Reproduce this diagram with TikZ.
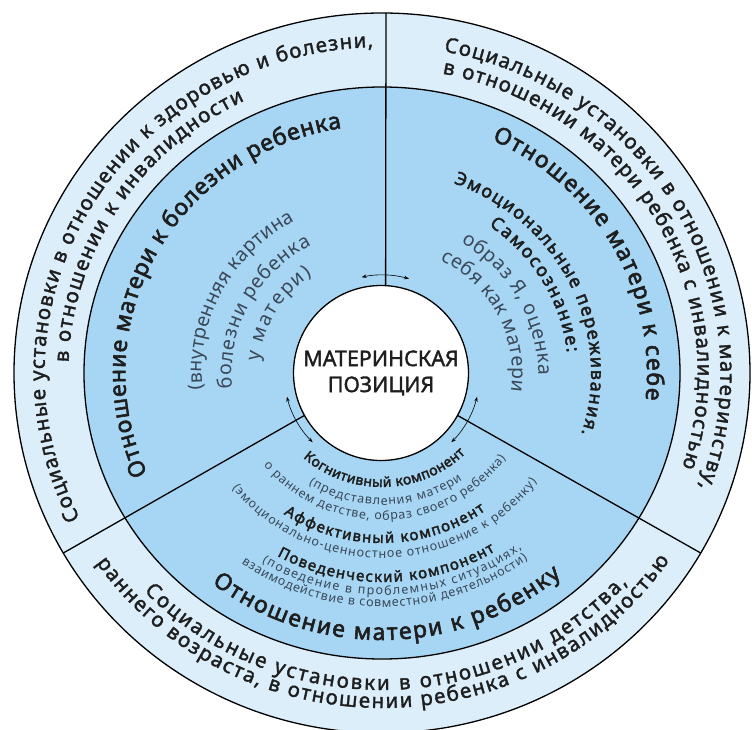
\documentclass[tikz,border=0pt]{standalone}
\usepackage{fontspec}
\setmainfont{Noto Sans}
\newfontfamily\semib{Noto Sans}[FakeBold=1.6]
\newfontfamily\heavyb{Noto Sans}[FakeBold=2.4]
\usetikzlibrary{decorations.text,arrows.meta}
\definecolor{outerblue}{HTML}{DCEEFA}
\definecolor{midblue}{HTML}{A6D6F3}
\definecolor{ink}{HTML}{1E1E1E}
\definecolor{soft}{HTML}{3A4858}
% #1 start angle, #2 end angle, #3 y radius of baseline, #4 format, #5 text
\newcommand\fittxt[5]{%
  \pgfmathsetmacro\arcRx{1.035*#3}%
  \path[decorate,decoration={text along path,text align=fit to path,text={|#4|#5}}]
    (#1:\arcRx pt and #3 pt) arc[start angle=#1, end angle=#2, x radius=\arcRx pt, y radius=#3 pt];}
\newcommand\outerfmt{\color{ink}\semib\fontsize{20.5}{24}\selectfont}
\newcommand\midfmt{\color{ink}\heavyb\fontsize{23}{27}\selectfont}
\newcommand\lightbig{\color{soft}\fontsize{19.5}{23}\selectfont}
\newcommand\boldbig{\color{ink}\heavyb\fontsize{18}{22}\selectfont}
\newcommand\boldsmall{\color{ink}\heavyb\fontsize{15}{18}\selectfont}
\newcommand\boldsmaller{\color{ink}\heavyb\fontsize{14}{17}\selectfont}
\newcommand\lightsmall{\color{soft}\fontsize{12.5}{15}\selectfont}
\begin{document}
\begin{tikzpicture}[x=1pt,y=1pt,
  ring/.style={draw=black,line width=1.3pt},
  divider/.style={draw=black,line width=1.3pt},
  swing/.style={{Stealth[length=5pt,width=3.5pt]}-{Stealth[length=5pt,width=3.5pt]},line width=0.6pt,black}]
\useasboundingbox (-382,-356) rectangle (370,373);
% rings
\path[ring,fill=outerblue] (0,0) ellipse[x radius=368pt,y radius=360pt];
\path[ring,fill=midblue] (0,0) ellipse[x radius=298pt,y radius=286pt];
% centre
\node[circle,draw=black,line width=1.3pt,fill=white,minimum size=175pt,inner sep=0pt,
      align=center,font=\semib\fontsize{21.5}{26}\selectfont,text=ink] (pos) at (-1,0) {МАТЕРИНСКАЯ\\ПОЗИЦИЯ};
% dividers
\coordinate (e90) at (4,360);
\coordinate (e210) at (210:368pt and 360pt);
\coordinate (e330) at (330:368pt and 360pt);
\draw[divider] (pos.87) -- (e90);
\draw[divider] (pos.209) -- (e210);
\draw[divider] (pos.331) -- (e330);
% small double arrows
\coordinate (a1) at (74:98pt);
\coordinate (a2) at (194:98pt);
\coordinate (a3) at (315:98pt);
\draw[swing] (a1) arc[start angle=74,end angle=102,radius=98pt];
\draw[swing] (a2) arc[start angle=194,end angle=225,radius=98pt];
\draw[swing] (a3) arc[start angle=315,end angle=346,radius=98pt];
% outer ring texts
\fittxt{206.5}{91.5}{326}{\outerfmt}{Социальные установки в отношении к здоровью и болезни,}
\fittxt{178}{116}{303}{\outerfmt}{в отношении к инвалидности}
\fittxt{79.5}{-20.5}{327}{\outerfmt}{Социальные установки в отношении к материнству,}
\fittxt{79}{-18}{305}{\outerfmt}{в отношении матери ребенка с инвалидностью}
\fittxt{223.5}{318.5}{317}{\outerfmt}{Социальные установки в отношении детства,}
\fittxt{214.5}{326}{335}{\outerfmt}{раннего возраста, в отношении ребенка с инвалидностью}
% middle ring texts
\fittxt{204}{99}{248}{\midfmt}{Отношение матери к болезни ребенка}
\fittxt{65.5}{-6}{256}{\midfmt}{Отношение матери к себе}
\fittxt{232}{310.5}{267}{\midfmt}{Отношение матери к ребенку}
% inner left
\fittxt{185.5}{119}{174}{\lightbig}{(внутренняя картина}
\fittxt{186}{118}{145}{\lightbig}{болезни ребенка}
\fittxt{174.5}{124.5}{119}{\lightbig}{у матери)}
% inner right
\fittxt{70}{-17.5}{202}{\boldbig}{Эмоциональные переживания.}
\fittxt{55}{6.5}{180}{\boldbig}{Самосознание:}
\fittxt{59.5}{-1}{151}{\lightbig}{образ Я, оценка}
\fittxt{63.5}{-8.5}{126}{\lightbig}{себя как матери}
% inner bottom
\fittxt{228}{315}{114}{\boldsmaller}{Когнитивный компонент}
\fittxt{237.5}{306}{132}{\lightsmall}{(представления матери}
\fittxt{219}{324.5}{147}{\lightsmall}{о раннем детстве, образ своего ребенка)}
\fittxt{236}{306}{170}{\boldsmall}{Аффективный компонент}
\fittxt{218.5}{324}{185}{\lightsmall}{(эмоционально-ценностное отношение к ребенку)}
\fittxt{241}{301.5}{209}{\boldsmall}{Поведенческий компонент}
\fittxt{238.5}{307.5}{222}{\lightsmall}{(поведение в проблемных ситуациях,}
\fittxt{234.5}{307}{234}{\lightsmall}{взаимодействие в совместной деятельности)}
\end{tikzpicture}
\end{document}
